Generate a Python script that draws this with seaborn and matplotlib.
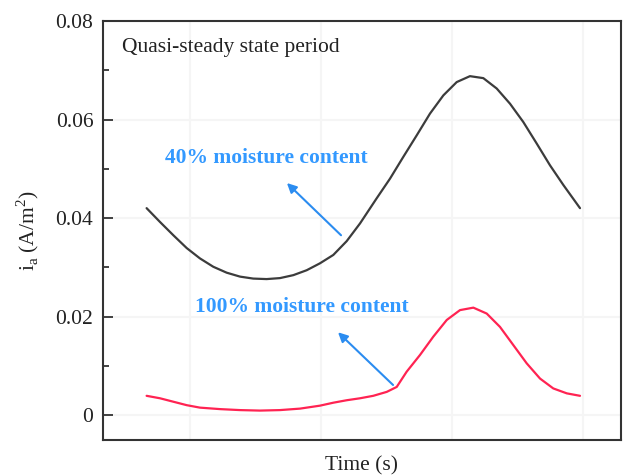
import numpy as np
import pandas as pd
import matplotlib
matplotlib.use("Agg")
import matplotlib.pyplot as plt
import seaborn as sns

# ---- data ----
time_40 = [0.669, 0.771, 0.873, 0.975, 1.076, 1.178, 1.280, 1.382, 1.483, 1.585,
           1.687, 1.789, 1.891, 1.992, 2.094, 2.196, 2.298, 2.425, 2.527, 2.628,
           2.731, 2.832, 2.934, 3.036, 3.137, 3.239, 3.341, 3.443, 3.544, 3.647,
           3.748, 3.850, 3.977]
ia_40 = [0.0420, 0.0392, 0.0365, 0.0339, 0.0318, 0.0301, 0.0289, 0.0281, 0.0277, 0.0276,
         0.0278, 0.0284, 0.0294, 0.0308, 0.0325, 0.0353, 0.0389, 0.0440, 0.0480, 0.0524,
         0.0568, 0.0612, 0.0649, 0.0676, 0.0688, 0.0684, 0.0663, 0.0632, 0.0595, 0.0551,
         0.0507, 0.0467, 0.0420]

time_100 = [0.669, 0.771, 0.873, 0.975, 1.076, 1.229, 1.382, 1.534, 1.687, 1.840,
            1.992, 2.094, 2.196, 2.298, 2.399, 2.502, 2.578, 2.654, 2.756, 2.857,
            2.960, 3.061, 3.163, 3.265, 3.366, 3.468, 3.570, 3.672, 3.773, 3.876,
            3.977]
ia_100 = [0.0039, 0.0034, 0.0027, 0.0020, 0.0015, 0.0012, 0.0010, 0.0009, 0.0010, 0.0013,
          0.0019, 0.0025, 0.0030, 0.0034, 0.0039, 0.0047, 0.0057, 0.0088, 0.0122, 0.0159,
          0.0193, 0.0213, 0.0218, 0.0206, 0.0179, 0.0142, 0.0105, 0.0074, 0.0054, 0.0044,
          0.0039]

series_labels = ["40% moisture content", "100% moisture content"]
yticks = [0, 0.02, 0.04, 0.06, 0.08]
ytick_labels = ["0", "0.02", "0.04", "0.06", "0.08"]
period_label = "Quasi-steady state period"

df = pd.DataFrame({
    "time": time_40 + time_100,
    "ia": ia_40 + ia_100,
    "series": [series_labels[0]] * len(time_40) + [series_labels[1]] * len(time_100),
})

sns.set_theme(style="white")
plt.rcParams["font.family"] = ["Liberation Serif", "DejaVu Serif"]
plt.rcParams["mathtext.fontset"] = "custom"
plt.rcParams["mathtext.rm"] = "Liberation Serif"

fig = plt.figure(figsize=(6.23, 4.75), dpi=100)
ax = fig.add_axes([0.1653, 0.0737, 0.8315, 0.8821])

palette = {series_labels[0]: "#3c3c3c", series_labels[1]: "#ff2352"}
sns.lineplot(data=df, x="time", y="ia", hue="series", palette=palette,
             linewidth=1.6, legend=False, ax=ax, sort=False)
for ln in ax.get_lines():
    ln.set_solid_joinstyle("round")
    ln.set_solid_capstyle("round")

ax.set_xlim(0.336, 4.29)
ax.set_ylim(-0.00507, 0.08)
ax.set_xticks([1, 2, 3, 4])
ax.set_xticklabels([])
ax.tick_params(axis="x", length=0)
ax.set_yticks(yticks)
ax.set_yticklabels(ytick_labels)
ax.set_yticks([0.01, 0.03, 0.05, 0.07], minor=True)
ax.tick_params(axis="y", which="major", direction="in", length=7, width=1.2,
               labelsize=15.5, pad=7, colors="#222222", left=True)
ax.tick_params(axis="y", which="minor", direction="in", length=4, width=1.2,
               left=True, colors="#222222")

ax.grid(True, color="#f5f5f5", linewidth=1.5)
for s in ax.spines.values():
    s.set_color("#333333")
    s.set_linewidth(1.5)

ax.set_xlabel("Time (s)", fontsize=15.5, labelpad=8, color="#222222")
ax.set_ylabel(r"i$_\mathregular{a}$ (A/m$^\mathregular{2}$)", fontsize=15.5,
              labelpad=10, color="#222222")

ax.text(0.481, 0.0746, period_label, fontsize=15.5, color="#222222",
        ha="left", va="center")

blue_txt = "#3399ff"
blue_arr = "#2b8cf0"
ax.text(0.809, 0.0521, series_labels[0], fontsize=15.5, fontweight="bold",
        color=blue_txt, ha="left", va="center")
ax.text(1.038, 0.0219, series_labels[1], fontsize=15.5, fontweight="bold",
        color=blue_txt, ha="left", va="center")

arrowprops = dict(arrowstyle="-|>", color=blue_arr, lw=1.5, mutation_scale=14,
                  shrinkA=0, shrinkB=0)
ax.annotate("", xy=(1.740, 0.0471), xytext=(2.153, 0.0365), arrowprops=arrowprops)
ax.annotate("", xy=(2.130, 0.0168), xytext=(2.550, 0.0061), arrowprops=arrowprops)

fig.savefig("out.png", dpi=100)
